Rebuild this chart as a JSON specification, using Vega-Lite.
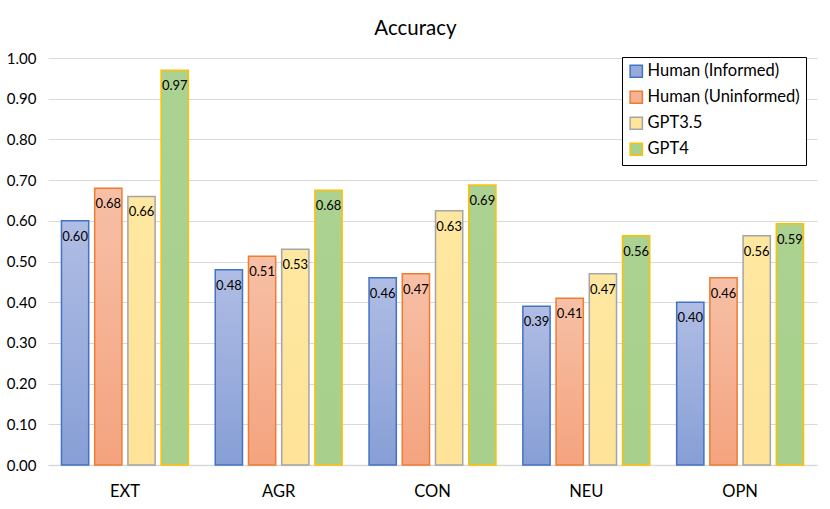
{
  "$schema": "https://vega.github.io/schema/vega-lite/v6.json",
  "autosize": {"type": "none"},
  "width": 769,
  "height": 407,
  "padding": {"left": 48, "top": 58, "right": 13, "bottom": 44},
  "background": "white",
  "title": {"text": "Accuracy", "font": "Lato", "fontSize": 20.5, "fontWeight": "normal", "color": "#000000", "anchor": "middle", "frame": "group", "dx": -17, "offset": 12},
  "config": {"view": {"stroke": null}, "font": "Lato"},
  "data": {"values": [
    {"trait": "EXT", "series": "Human (Informed)", "value": 0.60},
    {"trait": "EXT", "series": "Human (Uninformed)", "value": 0.68},
    {"trait": "EXT", "series": "GPT3.5", "value": 0.66},
    {"trait": "EXT", "series": "GPT4", "value": 0.97},
    {"trait": "AGR", "series": "Human (Informed)", "value": 0.48},
    {"trait": "AGR", "series": "Human (Uninformed)", "value": 0.513},
    {"trait": "AGR", "series": "GPT3.5", "value": 0.53},
    {"trait": "AGR", "series": "GPT4", "value": 0.675},
    {"trait": "CON", "series": "Human (Informed)", "value": 0.46},
    {"trait": "CON", "series": "Human (Uninformed)", "value": 0.47},
    {"trait": "CON", "series": "GPT3.5", "value": 0.625},
    {"trait": "CON", "series": "GPT4", "value": 0.688},
    {"trait": "NEU", "series": "Human (Informed)", "value": 0.39},
    {"trait": "NEU", "series": "Human (Uninformed)", "value": 0.41},
    {"trait": "NEU", "series": "GPT3.5", "value": 0.47},
    {"trait": "NEU", "series": "GPT4", "value": 0.563},
    {"trait": "OPN", "series": "Human (Informed)", "value": 0.40},
    {"trait": "OPN", "series": "Human (Uninformed)", "value": 0.46},
    {"trait": "OPN", "series": "GPT3.5", "value": 0.563},
    {"trait": "OPN", "series": "GPT4", "value": 0.593}
  ]},
  "encoding": {
    "x": {"field": "trait", "type": "nominal", "sort": ["EXT", "AGR", "CON", "NEU", "OPN"],
      "scale": {"paddingInner": 0.175, "paddingOuter": 0.0875},
      "axis": {"title": null, "labelAngle": 0, "labelFont": "Lato", "labelFontSize": 16.5, "labelColor": "#000000", "labelPadding": 18, "ticks": false, "domainColor": "#d9d9d9", "domainWidth": 1.5}},
    "xOffset": {"field": "series", "type": "nominal", "sort": ["Human (Informed)", "Human (Uninformed)", "GPT3.5", "GPT4"],
      "scale": {"paddingInner": 0.18, "paddingOuter": 0}},
    "y": {"field": "value", "type": "quantitative",
      "scale": {"domain": [0, 1]},
      "axis": {"title": null, "values": [0, 0.1, 0.2, 0.3, 0.4, 0.5, 0.6, 0.7, 0.8, 0.9, 1.0], "format": ".2f", "labelFont": "Lato", "labelFontSize": 15, "labelColor": "#000000", "labelPadding": 12, "ticks": false, "domain": false, "gridColor": "#d9d9d9", "gridWidth": 1}}
  },
  "layer": [
    {
      "mark": {"type": "bar", "strokeWidth": 1.5},
      "encoding": {
        "fill": {
          "field": "series", "type": "nominal",
          "sort": ["Human (Informed)", "Human (Uninformed)", "GPT3.5", "GPT4"],
          "scale": {"domain": ["Human (Informed)", "Human (Uninformed)", "GPT3.5", "GPT4"], "range": ["#98acdc", "#f5b193", "#fee59a", "#a9d18e"]},
          "legend": {"title": null, "orient": "none", "legendX": 574, "legendY": -1, "symbolType": "square", "symbolSize": 150, "symbolStrokeWidth": 1.5, "labelFont": "Lato", "labelFontSize": 16.5, "labelColor": "#000000", "rowPadding": 7, "padding": 6, "strokeColor": "#000000", "fillColor": "white", "labelOffset": 3, "labelLimit": 300},
          "condition": [
            {"test": "datum.series === 'Human (Informed)'", "value": {"gradient": "linear", "x1": 0, "y1": 0, "x2": 0, "y2": 1, "stops": [{"offset": 0, "color": "#b0bde4"}, {"offset": 1, "color": "#879fd6"}]}},
            {"test": "datum.series === 'Human (Uninformed)'", "value": {"gradient": "linear", "x1": 0, "y1": 0, "x2": 0, "y2": 1, "stops": [{"offset": 0, "color": "#f7c0a7"}, {"offset": 1, "color": "#f4a37e"}]}},
            {"test": "datum.series === 'GPT3.5'", "value": {"gradient": "linear", "x1": 0, "y1": 0, "x2": 0, "y2": 1, "stops": [{"offset": 0, "color": "#fee7a0"}, {"offset": 1, "color": "#fee398"}]}},
            {"test": "datum.series === 'GPT4'", "value": {"gradient": "linear", "x1": 0, "y1": 0, "x2": 0, "y2": 1, "stops": [{"offset": 0, "color": "#abd291"}, {"offset": 1, "color": "#a8d08c"}]}}
          ]
        },
        "stroke": {
          "field": "series", "type": "nominal",
          "sort": ["Human (Informed)", "Human (Uninformed)", "GPT3.5", "GPT4"],
          "scale": {"domain": ["Human (Informed)", "Human (Uninformed)", "GPT3.5", "GPT4"], "range": ["#4472c4", "#ed7d31", "#a5a5a5", "#ffc000"]},
          "legend": {"title": null, "orient": "none", "legendX": 574, "legendY": -1, "symbolType": "square", "symbolSize": 150, "symbolStrokeWidth": 1.5, "labelFont": "Lato", "labelFontSize": 16.5, "labelColor": "#000000", "rowPadding": 7, "padding": 6, "strokeColor": "#000000", "fillColor": "white", "labelOffset": 3, "labelLimit": 300}
        }
      }
    },
    {
      "mark": {"type": "text", "dy": 16, "font": "Lato", "fontSize": 13, "color": "#000000", "baseline": "middle", "align": "center"},
      "encoding": {
        "text": {"field": "value", "type": "quantitative", "format": ".2f"}
      }
    }
  ]
}
